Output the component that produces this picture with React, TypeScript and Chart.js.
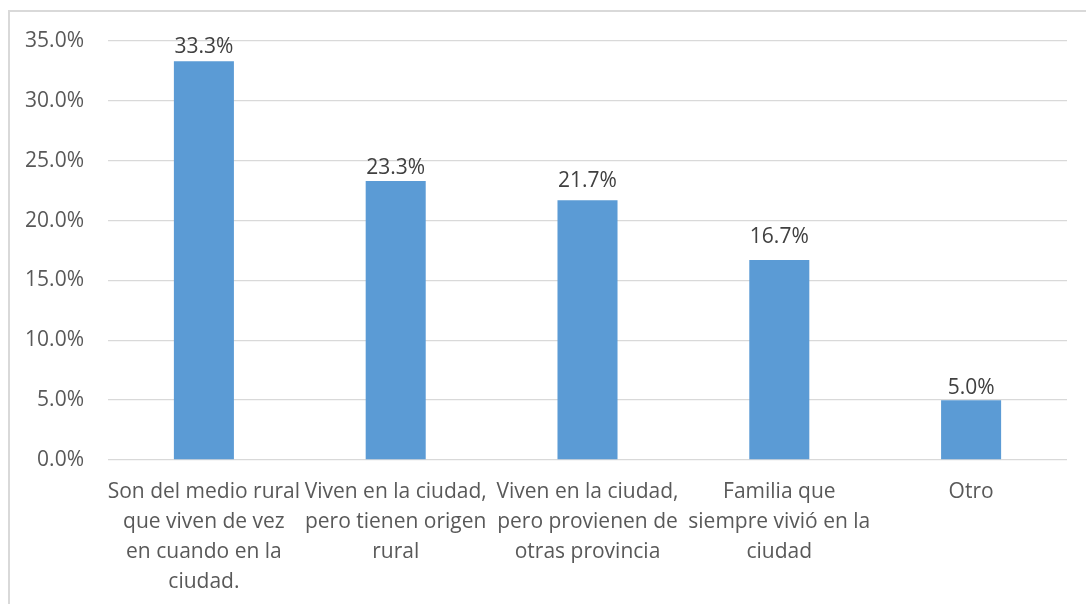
import React, { useEffect, useRef } from "react";
import { Chart, registerables } from "chart.js";

Chart.register(...registerables);

const categories: string[][] = [
  ["Son del medio rural", "que viven de vez", "en cuando en la", "ciudad."],
  ["Viven en la ciudad,", "pero tienen origen", "rural"],
  ["Viven en la ciudad,", "pero provienen de", "otras provincia"],
  ["Familia que", "siempre vivió en la", "ciudad"],
  ["Otro"],
];

const values: number[] = [33.3, 23.3, 21.7, 16.7, 5.0];

const yTicks: number[] = [0, 5, 10, 15, 20, 25, 30, 35];

// style: vertical gap between bar top and the middle of its data label
const labelGaps: number[] = [14, 13, 19, 23, 12];

const FONT = "'Open Sans', 'Noto Sans', sans-serif";

export default function App() {
  const ref = useRef<HTMLCanvasElement | null>(null);

  useEffect(() => {
    if (!ref.current) return;

    const framePlugin = {
      id: "frame",
      beforeDraw(chart: any) {
        const ctx = chart.ctx;
        ctx.save();
        ctx.fillStyle = "#ffffff";
        ctx.fillRect(0, 0, chart.width, chart.height);
        ctx.fillStyle = "#d9d9d9";
        ctx.fillRect(8, 10, chart.width, 2);
        ctx.fillRect(8, 10, 2, chart.height);
        ctx.restore();
      },
    };

    const valueLabels = {
      id: "valueLabels",
      afterDatasetsDraw(chart: any) {
        const ctx = chart.ctx;
        const meta = chart.getDatasetMeta(0);
        ctx.save();
        ctx.font = `21px ${FONT}`;
        ctx.fillStyle = "#404040";
        ctx.textAlign = "center";
        ctx.textBaseline = "middle";
        meta.data.forEach((el: any, i: number) => {
          const v = chart.data.datasets[0].data[i] as number;
          ctx.fillText(v.toFixed(1) + "%", el.x, el.y - labelGaps[i]);
        });
        ctx.restore();
      },
    };

    const chart = new Chart(ref.current, {
      type: "bar",
      data: {
        labels: categories,
        datasets: [
          {
            data: values,
            backgroundColor: "#5b9bd5",
            borderWidth: 0,
            barPercentage: 0.313,
            categoryPercentage: 1,
          },
        ],
      },
      options: {
        animation: false,
        responsive: false,
        devicePixelRatio: 1,
        layout: { padding: { left: 0, right: 19, top: 41, bottom: 0 } },
        plugins: {
          legend: { display: false },
          tooltip: { enabled: false },
          title: { display: false },
        },
        scales: {
          x: {
            grid: { display: false, drawTicks: false },
            border: { display: false },
            ticks: {
              autoSkip: false,
              maxRotation: 0,
              minRotation: 0,
              padding: 17,
              color: "#595959",
              font: { family: FONT, size: 21, lineHeight: "30px" },
            },
            afterFit(scale: any) {
              scale.height = 144;
            },
          },
          y: {
            min: yTicks[0],
            max: yTicks[yTicks.length - 1],
            afterBuildTicks(scale: any) {
              scale.ticks = yTicks.map((v) => ({ value: v }));
            },
            grid: { color: "#d9d9d9", lineWidth: 1.3, drawTicks: false },
            border: { display: false },
            ticks: {
              padding: 24,
              color: "#595959",
              font: { family: FONT, size: 21 },
              callback: (v: any) => Number(v).toFixed(1) + "%",
            },
            afterFit(scale: any) {
              scale.width = 108;
            },
          },
        },
      },
      plugins: [framePlugin, valueLabels],
    });

    return () => chart.destroy();
  }, []);

  return (
    <div style={{ position: "fixed", left: 0, top: 0, width: 1086, height: 604, background: "#fff" }}>
      <canvas ref={ref} width={1086} height={604} style={{ display: "block" }} />
    </div>
  );
}
